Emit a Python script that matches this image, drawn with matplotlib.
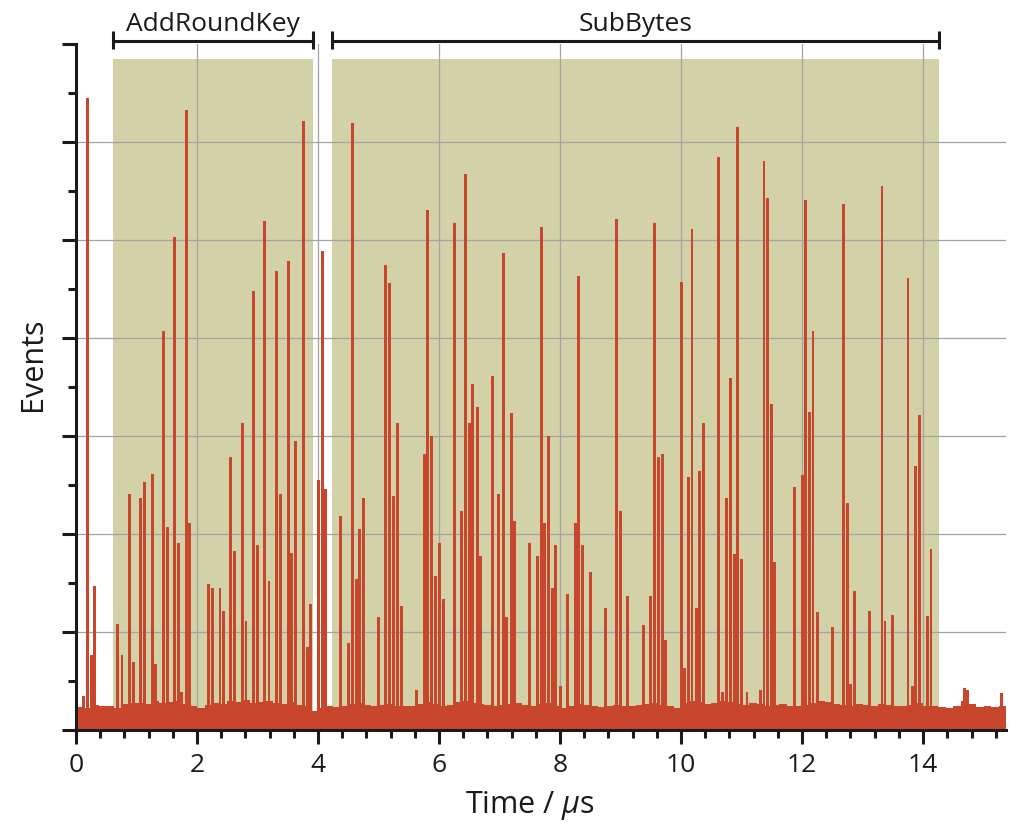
import matplotlib
matplotlib.use("Agg")
import matplotlib.pyplot as plt
import matplotlib.transforms as mtransforms
from matplotlib.patches import Rectangle
from matplotlib.ticker import MultipleLocator, NullFormatter
import numpy as np

plt.rcParams['font.family'] = ['Open Sans', 'DejaVu Sans']
plt.rcParams['mathtext.fontset'] = 'custom'
plt.rcParams['mathtext.it'] = 'Open Sans:italic'
plt.rcParams['mathtext.rm'] = 'Open Sans'

# ---- data ----
spike_t = [0.12, 0.19, 0.25, 0.31, 0.69, 0.76, 0.88, 0.95, 1.07, 1.13, 1.26, 1.32,
           1.45, 1.51, 1.63, 1.69, 1.75, 1.82, 1.88, 2.19, 2.25, 2.38, 2.44, 2.56,
           2.62, 2.755, 2.81, 2.93, 3.00, 3.12, 3.19, 3.32, 3.38, 3.51, 3.56, 3.63,
           3.76, 3.82, 3.88, 4.01, 4.07, 4.13, 4.375, 4.50, 4.57, 4.63, 4.69, 4.75,
           5.00, 5.12, 5.18, 5.245, 5.315, 5.38, 5.62, 5.76, 5.81, 5.88, 5.94, 6.005,
           6.07, 6.25, 6.37, 6.44, 6.50, 6.56, 6.63, 6.69, 6.88, 6.99, 7.06, 7.12,
           7.19, 7.25, 7.50, 7.63, 7.69, 7.74, 7.81, 7.88, 7.93, 8.00, 8.13, 8.25,
           8.31, 8.37, 8.50, 8.75, 8.94, 9.00, 9.12, 9.38, 9.50, 9.56, 9.62, 9.69,
           9.75, 10.00, 10.06, 10.12, 10.18, 10.25, 10.30, 10.375, 10.62, 10.69,
           10.75, 10.81, 10.88, 10.94, 11.00, 11.09, 11.32, 11.37, 11.43, 11.50,
           11.55, 11.87, 12.00, 12.06, 12.12, 12.18, 12.25, 12.50, 12.69, 12.75,
           12.80, 12.87, 13.12, 13.32, 13.37, 13.50, 13.75, 13.82, 13.87, 13.94,
           14.07, 14.13, 14.68, 14.74, 15.30]
spike_h = [0.35, 6.45, 0.77, 1.47, 1.08, 0.77, 2.41, 0.69, 2.37, 2.53, 2.61, 0.67,
           4.07, 2.07, 5.03, 1.91, 0.39, 6.33, 2.11, 1.49, 1.45, 1.45, 1.21, 2.79,
           1.83, 3.13, 1.11, 4.48, 1.89, 5.19, 1.52, 4.68, 2.41, 4.79, 1.81, 2.95,
           6.21, 0.85, 1.29, 2.55, 4.89, 2.46, 2.18, 0.89, 6.19, 1.54, 2.05, 2.37,
           1.15, 4.75, 4.56, 2.39, 3.13, 1.27, 0.41, 2.82, 5.31, 3.00, 1.57, 1.91,
           1.34, 5.17, 2.23, 5.67, 3.13, 3.53, 3.30, 1.78, 3.61, 2.41, 4.87, 1.15,
           3.23, 2.13, 1.91, 1.78, 5.13, 2.11, 3.00, 1.45, 1.89, 0.45, 1.39, 2.11,
           4.63, 1.89, 1.61, 1.25, 5.21, 2.23, 1.37, 1.07, 1.37, 5.17, 2.79, 2.82,
           0.92, 4.57, 0.63, 2.58, 5.11, 1.25, 2.64, 3.13, 5.85, 0.39,
           2.37, 3.59, 1.80, 6.15, 1.74, 0.39, 0.41, 5.81, 5.43, 3.33,
           1.71, 2.48, 2.60, 5.41, 3.25, 4.07, 1.20, 1.05, 5.37, 2.32,
           0.47, 1.42, 1.21, 5.55, 1.11, 1.17, 4.61, 0.45, 2.69, 3.21,
           1.16, 1.85, 0.43, 0.41, 0.38]

# background (noise floor) level in 0.125 us bins from 0 to 15.375 us
floor_h = [0.23, 0.22, 0.26, 0.25, 0.24, 0.22, 0.27, 0.28,
           0.28, 0.27, 0.30, 0.28, 0.29, 0.30, 0.27, 0.24,
           0.22, 0.26, 0.28, 0.27, 0.30, 0.29, 0.31, 0.28,
           0.29, 0.30, 0.28, 0.27, 0.29, 0.26, 0.24, 0.19,
           0.22, 0.24, 0.23, 0.25, 0.27, 0.28, 0.26, 0.25,
           0.26, 0.27, 0.25, 0.24, 0.25, 0.27, 0.29, 0.27,
           0.25, 0.26, 0.29, 0.30, 0.28, 0.27, 0.26, 0.25,
           0.26, 0.27, 0.28, 0.26, 0.25, 0.27, 0.28, 0.24,
           0.22, 0.25, 0.27, 0.26, 0.24, 0.23, 0.25, 0.26,
           0.25, 0.24, 0.26, 0.27, 0.28, 0.26, 0.24, 0.22,
           0.28, 0.30, 0.29, 0.27, 0.28, 0.30, 0.29, 0.27,
           0.26, 0.28, 0.27, 0.25, 0.26, 0.27, 0.25, 0.24,
           0.26, 0.28, 0.30, 0.29, 0.27, 0.26, 0.25, 0.27,
           0.26, 0.25, 0.27, 0.26, 0.25, 0.24, 0.26, 0.28,
           0.25, 0.24, 0.23, 0.22, 0.24, 0.30, 0.27, 0.23,
           0.24, 0.23, 0.25]
floor_step = 0.125

regions = ["AddRoundKey", "SubBytes"]
region_start = [0.61, 4.23]
region_end = [3.92, 14.26]
region_top = 6.85

RED = "#c8462b"
SHADE = "#d3d1a7"
GRID = "#a3a3a3"

fig = plt.figure(figsize=(10.2, 8.29), dpi=100)
ax = fig.add_axes([76 / 1020, 98 / 829, 930 / 1020, 686 / 829])

for s, e in zip(region_start, region_end):
    ax.add_patch(Rectangle((s, 0), e - s, region_top, facecolor=SHADE,
                           edgecolor='none', zorder=0.2))

edges = np.arange(len(floor_h) + 1) * floor_step
ax.stairs(floor_h, edges, fill=True, color=RED, zorder=2, baseline=0)
ax.bar(spike_t, spike_h, width=0.048, color=RED, linewidth=0, zorder=2.1)

ax.set_xlim(0, 15.37)
ax.set_ylim(0, 7)
ax.xaxis.set_major_locator(MultipleLocator(2))
ax.xaxis.set_minor_locator(MultipleLocator(0.4))
ax.yaxis.set_major_locator(MultipleLocator(1))
ax.yaxis.set_minor_locator(MultipleLocator(0.5))
ax.yaxis.set_major_formatter(NullFormatter())
ax.set_axisbelow(True)
ax.grid(True, which='major', color=GRID, linewidth=0.9)

for sp in ['top', 'right']:
    ax.spines[sp].set_visible(False)
for sp in ['left', 'bottom']:
    ax.spines[sp].set_linewidth(2.2)
    ax.spines[sp].set_color('#1a1a1a')
    ax.spines[sp].set_zorder(3)

ax.tick_params(which='major', length=10, width=2.2, color='#1a1a1a',
               labelsize=19, pad=6, labelcolor='#1a1a1a')
ax.tick_params(which='minor', length=5.5, width=2.2, color='#1a1a1a')

# hide the horizontal grid line at the very top of the axis
fig.canvas.draw()
for gl, tv in zip(ax.get_ygridlines(), ax.get_yticks()):
    if tv >= 7:
        gl.set_visible(False)

# region brackets
trans = mtransforms.blended_transform_factory(ax.transData, ax.transAxes)
for name, s, e in zip(regions, region_start, region_end):
    ax.plot([s, e], [1.005, 1.005], transform=trans, color='#1a1a1a',
            lw=2.2, clip_on=False, solid_capstyle='butt')
    for xx in (s, e):
        ax.plot([xx, xx], [0.993, 1.019], transform=trans, color='#1a1a1a',
                lw=2.2, clip_on=False, solid_capstyle='butt')
    ax.text((s + e) / 2, 1.021, name, transform=trans, ha='center',
            va='baseline', fontsize=19, color='#1a1a1a')

fig.text(529.5 / 1020, 1 - 806 / 829, "Time / $\\mu$s", ha='center',
         va='center', fontsize=22, color='#1a1a1a')
fig.text(33.5 / 1020, 1 - 364 / 829, "Events", ha='center', va='center',
         rotation=90, fontsize=22, color='#1a1a1a')

fig.savefig("out.png", dpi=100)
